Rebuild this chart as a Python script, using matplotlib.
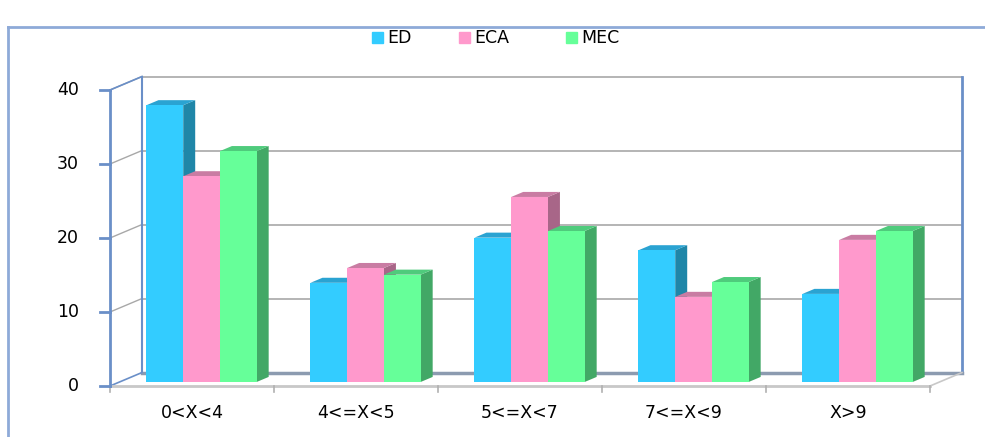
import matplotlib

matplotlib.use("Agg")
import matplotlib.pyplot as plt

categories = ["0<X<4", "4<=X<5", "5<=X<7", "7<=X<9", "X>9"]
series_names = ["ED", "ECA", "MEC"]
ed_values = [37.4, 13.4, 19.5, 17.8, 11.9]
eca_values = [27.8, 15.4, 25.0, 11.5, 19.2]
mec_values = [31.2, 14.5, 20.4, 13.5, 20.4]
y_ticks = [0, 10, 20, 30, 40]

# front / side / top shades per series
FRONT = ["#33ccff", "#ff99cc", "#66ff99"]
SIDE = ["#1f86a8", "#a86688", "#42a866"]
TOP = ["#2aa3d2", "#c97ca3", "#4fcb7c"]
AXIS_BLUE = "#6a8fc8"
GRID_GREY = "#a8a8a8"

# fake 3-D box: full depth offset in data units (x in categories, y in values)
DX, DY = 0.195, 1.82
BAR_D0 = 0.3          # depth fraction where bar fronts sit
BAR_DX, BAR_DY = 0.073, 0.68
BAR_W = 0.224
YMAX = 40

fig = plt.figure(figsize=(9.85, 4.37), dpi=100)
ax = fig.add_axes([0, 0, 1, 1])
ax.set_xlim(-110 / 164, 875 / 164)
ax.set_ylim(-51 / 7.4, 386 / 7.4)
ax.axis("off")

n = len(categories)

# outer chart frame
fig.add_artist(plt.Line2D([0.008, 0.008], [0, 0.938], color="#8eaad8", lw=2))
fig.add_artist(plt.Line2D([0.008, 1], [0.938, 0.938], color="#8eaad8", lw=2))

# back wall grid and top edge
for t in y_ticks[1:]:
    ax.plot([DX, n + DX], [t + DY, t + DY], color=GRID_GREY, lw=1.2, zorder=1)
    ax.plot([0, DX], [t, t + DY], color=GRID_GREY, lw=1.0, zorder=1)
ax.plot([0, DX], [YMAX, YMAX + DY], color=AXIS_BLUE, lw=1.2, zorder=1)
ax.plot([DX, DX], [DY, YMAX + DY], color=AXIS_BLUE, lw=1.5, zorder=1)
ax.plot([n + DX, n + DX], [DY, YMAX + DY], color=AXIS_BLUE, lw=2, zorder=1)

# floor edges
ax.plot([DX, n + DX], [DY, DY], color="#8c9bb0", lw=2.5, zorder=1)
ax.plot([0, DX], [0, DY], color=AXIS_BLUE, lw=1.2, zorder=1)
ax.plot([n, n + DX], [0, DY], color="#c8c8c8", lw=1.2, zorder=1)
ax.plot([0, n], [0, 0], color="#c8c8c8", lw=2, zorder=1)
for i in range(n + 1):
    ax.plot([i, i], [0, -0.8], color="#b0b0b0", lw=1.2, zorder=1)

# value axis on the front left edge
ax.plot([0, 0], [0, YMAX], color=AXIS_BLUE, lw=2, zorder=1)
for t in y_ticks:
    ax.plot([-0.06, 0], [t, t], color=AXIS_BLUE, lw=2, zorder=1)
    ax.text(-0.19, t, str(t), ha="right", va="center", fontsize=12.5, color="black")

for i, c in enumerate(categories):
    ax.text(i + 0.5, -3.65, c, ha="center", va="center", fontsize=12.5, color="black")

# bars
all_values = [ed_values, eca_values, mec_values]
y0 = BAR_D0 * DY
for i in range(n):
    for j, vals in enumerate(all_values):
        v = vals[i]
        x0 = i + 0.5 + BAR_D0 * DX + (j - 1.5) * BAR_W
        x1 = x0 + BAR_W
        y1 = y0 + v
        z = 3 + i * 3 + j
        ax.fill([x1, x1 + BAR_DX, x1 + BAR_DX, x1],
                [y0, y0 + BAR_DY, y1 + BAR_DY, y1],
                color=SIDE[j], lw=0, zorder=z)
        ax.fill([x0, x1, x1 + BAR_DX, x0 + BAR_DX],
                [y1, y1, y1 + BAR_DY, y1 + BAR_DY],
                color=TOP[j], lw=0, zorder=z)
        ax.bar(x0, v, width=BAR_W, bottom=y0, align="edge",
               color=FRONT[j], lw=0, zorder=z)

# legend
legend_x = [372, 459, 566]
for name, col, lx in zip(series_names, FRONT, legend_x):
    fig.add_artist(plt.Rectangle((lx / 985, 1 - 43 / 437), 11 / 985, 11 / 437,
                                 color=col, transform=fig.transFigure))
    fig.text((lx + 15) / 985, 1 - 38 / 437, name, ha="left", va="center",
             fontsize=12.5, color="black")

fig.savefig("out.png", dpi=100)
